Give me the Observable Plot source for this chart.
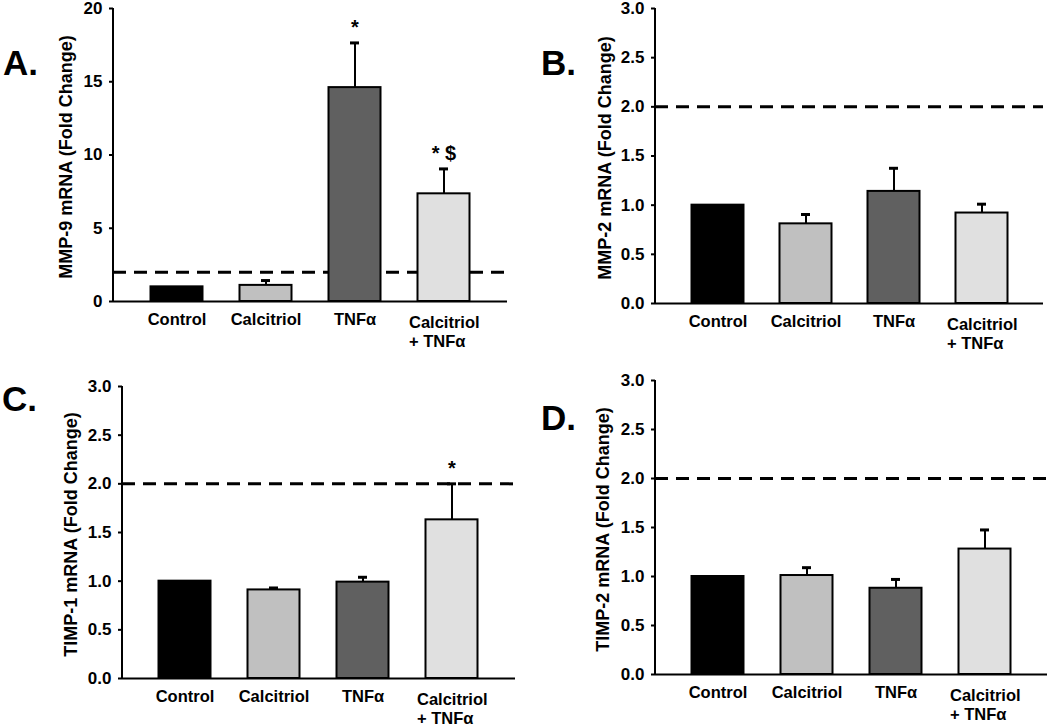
<!DOCTYPE html>
<html>
<head>
<meta charset="utf-8">
<script src="https://cdn.jsdelivr.net/npm/d3@7"></script>
<script src="https://cdn.jsdelivr.net/npm/@observablehq/plot@0.6"></script>
<style>
  body { margin: 0; background: #ffffff; }
  #root { position: relative; width: 1050px; height: 727px; overflow: hidden; background: #ffffff;
          font-family: "Liberation Sans", Arial, sans-serif; }
  .panel { position: absolute; }
  .panel svg { overflow: visible; }
  .letter { position: absolute; font-weight: bold; font-size: 35px; line-height: 35px; color: #000; }
</style>
</head>
<body>
<div id="root"></div>
<script>
// ---- data ----
const categories = ["Control", "Calcitriol", "TNFα", "Calcitriol\n+ TNFα"];
const barFills = ["#000000", "#c0c0c0", "#606060", "#e0e0e0"];

const mmp9 = [1.0, 1.1, 14.6, 7.35];
const mmp9Sem = [0, 0.33, 3.05, 1.7];
const mmp9Sig = ["", "", "*", "* $"];

const mmp2 = [1.0, 0.81, 1.14, 0.92];
const mmp2Sem = [0, 0.095, 0.235, 0.09];
const mmp2Sig = ["", "", "", ""];

const timp1 = [1.0, 0.91, 0.99, 1.63];
const timp1Sem = [0, 0.02, 0.05, 0.37];
const timp1Sig = ["", "", "", "*"];

const timp2 = [1.0, 1.01, 0.88, 1.28];
const timp2Sem = [0, 0.08, 0.09, 0.195];
const timp2Sig = ["", "", "", ""];

const threshold = 2;
const ticksA = [0, 5, 10, 15, 20];
const ticksB = [0, 0.5, 1.0, 1.5, 2.0, 2.5, 3.0];

const FONT = "'Liberation Sans', Arial, sans-serif";

function panel(cfg) {
  const data = categories.map((c, i) => ({
    cat: c, v: cfg.values[i], e: cfg.values[i] + cfg.sem[i], sem: cfg.sem[i],
    sig: cfg.sig[i], fill: barFills[i]
  }));
  const errs = data.filter(d => d.sem > 0);
  const sigs = data.filter(d => d.sig);
  const yMax = cfg.ticks[cfg.ticks.length - 1];
  const yAxisLine = (index, scales, values, dims) => {
    return d3.create("svg:line")
      .attr("x1", dims.marginLeft).attr("x2", dims.marginLeft)
      .attr("y1", scales.y(0) + 1).attr("y2", scales.y(yMax))
      .attr("stroke", "#000").attr("stroke-width", 2).node();
  };
  const b = cfg.box;
  return Plot.plot({
    width: b.w, height: b.h,
    marginLeft: b.ml, marginRight: b.mr, marginTop: b.mt, marginBottom: b.mb,
    style: { fontFamily: FONT, fontWeight: "bold", fontSize: "17px", color: "#000", background: "transparent", overflow: "visible" },
    x: { domain: categories, padding: 0.4 },
    y: { domain: [0, yMax] },
    color: { type: "identity" },
    marks: [
      Plot.ruleY([threshold], { stroke: "#000", strokeWidth: 3, strokeDasharray: "13,8" }),
      Plot.barY(data, { x: "cat", y: "v", fill: "fill", stroke: "#000", strokeWidth: 2, insetLeft: 0.5, insetRight: 0.5 }),
      Plot.ruleX(errs, { x: "cat", y1: "v", y2: "e", stroke: "#000", strokeWidth: 2 }),
      Plot.tickY(errs, { x: "cat", y: "e", stroke: "#000", strokeWidth: 3, insetLeft: 22, insetRight: 22 }),
      Plot.text(sigs, { x: "cat", y: "e", text: "sig", lineAnchor: "bottom", dy: -9, fontSize: 20, fontWeight: "bold" }),
      Plot.ruleY([0], { stroke: "#000", strokeWidth: 2 }),
      yAxisLine,
      Plot.axisY({ ticks: cfg.ticks, tickFormat: cfg.fmt, tickSize: 4, tickPadding: 7, strokeWidth: 2, label: null, fontSize: 17 }),
      Plot.axisX({ ticks: categories.slice(0, 3), tickSize: 0, tickPadding: 12, label: null, fontSize: 16.5 }),
      Plot.axisX({ ticks: [categories[3]], tickSize: 0, tickPadding: 12, label: null, fontSize: 16.5,
                   textAnchor: "start", dx: -35, lineHeight: 1.2 }),
      Plot.text([cfg.label], { frameAnchor: "left", rotate: -90, dx: cfg.labelDx, dy: 2, lineAnchor: "top",
                               textAnchor: "middle", fontSize: 18, fontWeight: "bold" })
    ]
  });
}

const panels = [
  { letter: "A.", lx: 3, ly: 45, values: mmp9, sem: mmp9Sem, sig: mmp9Sig, ticks: ticksA, fmt: d3.format("d"),
    label: "MMP-9 mRNA (Fold Change)", labelDx: -54,
    box: { left: 0, top: 0, w: 520, h: 360, ml: 113, mr: 13, mt: 8, mb: 59 } },
  { letter: "B.", lx: 541, ly: 45, values: mmp2, sem: mmp2Sem, sig: mmp2Sig, ticks: ticksB, fmt: d3.format(".1f"),
    label: "MMP-2 mRNA (Fold Change)", labelDx: -57,
    box: { left: 520, top: 0, w: 530, h: 360, ml: 135, mr: 7, mt: 8, mb: 57 } },
  { letter: "C.", lx: 2, ly: 381, values: timp1, sem: timp1Sem, sig: timp1Sig, ticks: ticksB, fmt: d3.format(".1f"),
    label: "TIMP-1 mRNA (Fold Change)", labelDx: -58,
    box: { left: 0, top: 360, w: 520, h: 367, ml: 122, mr: 5, mt: 26, mb: 49 } },
  { letter: "D.", lx: 541, ly: 400, values: timp2, sem: timp2Sem, sig: timp2Sig, ticks: ticksB, fmt: d3.format(".1f"),
    label: "TIMP-2 mRNA (Fold Change)", labelDx: -59,
    box: { left: 520, top: 360, w: 530, h: 367, ml: 135, mr: 3, mt: 20, mb: 53 } }
];

const root = document.getElementById("root");
for (const p of panels) {
  const div = document.createElement("div");
  div.className = "panel";
  div.style.left = p.box.left + "px";
  div.style.top = p.box.top + "px";
  div.style.width = p.box.w + "px";
  div.style.height = p.box.h + "px";
  div.appendChild(panel(p));
  root.appendChild(div);
  const l = document.createElement("div");
  l.className = "letter";
  l.textContent = p.letter;
  l.style.left = p.lx + "px";
  l.style.top = p.ly + "px";
  root.appendChild(l);
}
</script>
</body>
</html>
